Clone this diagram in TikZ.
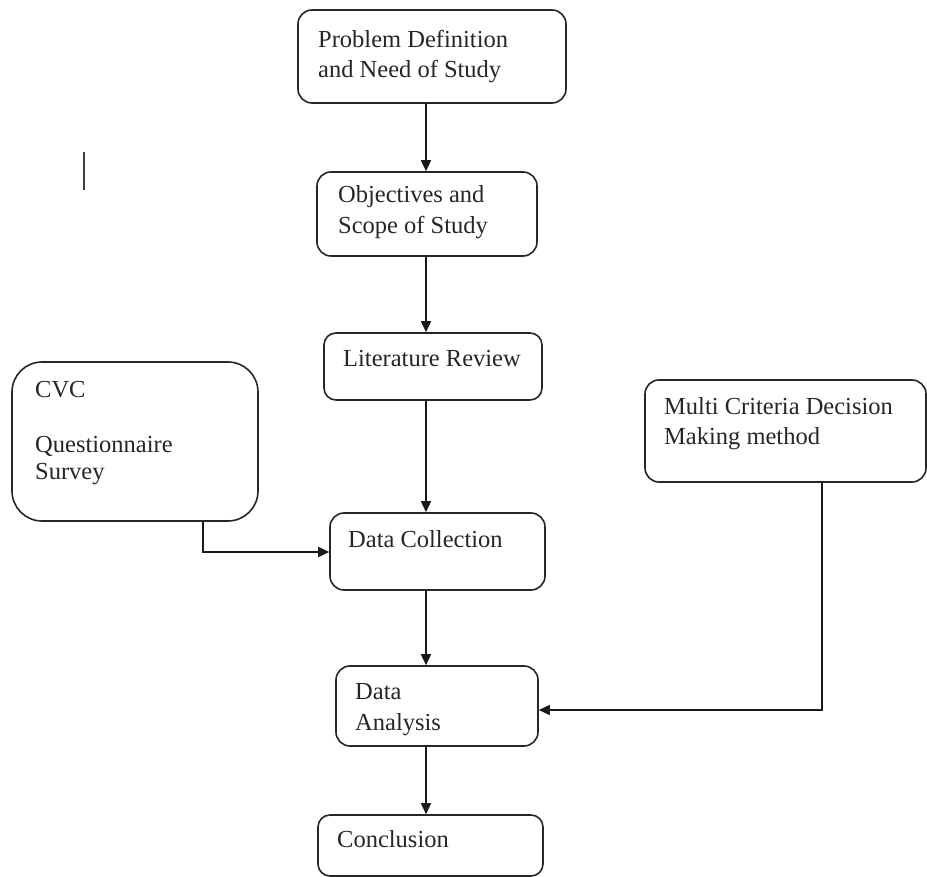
\documentclass[tikz,border=0pt]{standalone}
\usepackage{fontspec}
\setmainfont{Liberation Serif}
\usetikzlibrary{arrows.meta}
\begin{document}
\begin{tikzpicture}[x=1pt,y=-1pt,
  box/.style={draw=black!85, line width=1.6pt, rounded corners=#1, inner sep=0pt},
  box/.default=14pt,
  txt/.style={anchor=base west, inner sep=0pt, font=\fontsize{24.5}{30}\selectfont, text=black!85, align=left},
  arr/.style={draw=black!90, line width=1.6pt, -{Triangle[length=11pt,width=10pt]}}]
\useasboundingbox (0,0) rectangle (927,877);
% boxes
\node[box, minimum width=268pt, minimum height=93pt] (pd) at (432,56.5) {};
\node[box, minimum width=220pt, minimum height=84pt] (os) at (427,214) {};
\node[box=12pt, minimum width=218pt, minimum height=67pt] (lr) at (433,366.5) {};
\node[box=30pt, minimum width=246pt, minimum height=159pt] (cvc) at (135,441.5) {};
\node[box, minimum width=215pt, minimum height=77pt] (dc) at (437.5,551.5) {};
\node[box, minimum width=281pt, minimum height=102pt] (mc) at (785.5,431) {};
\node[box, minimum width=202pt, minimum height=80pt] (da) at (437,706) {};
\node[box=12pt, minimum width=225pt, minimum height=61pt] (cn) at (430.5,845.5) {};
% texts
\node[txt] (t1) at (318,48) {Problem Definition};
\node[txt] (t2) at (318,78) {and Need of Study};
\node[txt] (t3) at (338,203) {Objectives and};
\node[txt] (t4) at (338,234) {Scope of Study};
\node[txt] (t5) at (343,367) {Literature Review};
\node[txt] (t6) at (35,398) {CVC};
\node[txt] (t7) at (35,452) {Questionnaire};
\node[txt] (t8) at (35,479) {Survey};
\node[txt] (t9) at (348,547) {Data Collection};
\node[txt] (t10) at (664,415) {Multi Criteria Decision};
\node[txt] (t11) at (664,444) {Making method};
\node[txt] (t12) at (355,699) {Data};
\node[txt] (t13) at (355,730) {Analysis};
\node[txt] (t14) at (337,847) {Conclusion};
% stray bar
\draw[line width=2.2pt, black!75] (84,152) -- (84,190);
% connectors
\coordinate (ax) at (426,0);
\draw[arr] (ax |- pd.south) -- (ax |- os.north);
\draw[arr] (ax |- os.south) -- (ax |- lr.north);
\draw[arr] (ax |- lr.south) -- (ax |- dc.north);
\draw[arr] (ax |- dc.south) -- (ax |- da.north);
\draw[arr] (ax |- da.south) -- (ax |- cn.north);
\coordinate (cx) at (203,552);
\draw[arr] (cx |- cvc.south) -- (cx) -- (dc.west |- cx);
\coordinate (mx) at (822,710);
\draw[arr] (mx |- mc.south) -- (mx) -- (da.east |- mx);
\end{tikzpicture}
\end{document}
